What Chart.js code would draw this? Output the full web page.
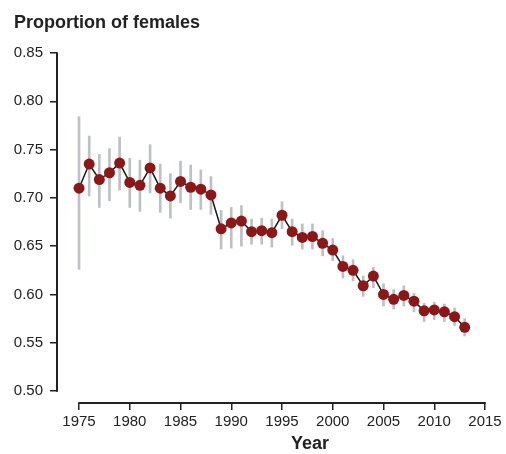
<!DOCTYPE html>
<html>
<head>
<meta charset="utf-8">
<script src="https://cdn.jsdelivr.net/npm/chart.js@4"></script>
<style>
  html, body { margin: 0; padding: 0; background: #fff; }
  #wrap { width: 506px; height: 454px; }
</style>
</head>
<body>
<div id="wrap"><canvas id="chart"></canvas></div>
<script>
const years = [1975, 1976, 1977, 1978, 1979, 1980, 1981, 1982, 1983, 1984,
  1985, 1986, 1987, 1988, 1989, 1990, 1991, 1992, 1993, 1994,
  1995, 1996, 1997, 1998, 1999, 2000, 2001, 2002, 2003, 2004,
  2005, 2006, 2007, 2008, 2009, 2010, 2011, 2012, 2013];
const proportion = [0.710, 0.735, 0.719, 0.726, 0.736, 0.716, 0.713, 0.731, 0.710, 0.702,
  0.717, 0.711, 0.709, 0.703, 0.668, 0.674, 0.676, 0.665, 0.666, 0.664,
  0.682, 0.665, 0.659, 0.660, 0.653, 0.646, 0.629, 0.625, 0.609, 0.619,
  0.600, 0.595, 0.599, 0.593, 0.583, 0.584, 0.582, 0.577, 0.566];
const lower = [0.626, 0.702, 0.690, 0.697, 0.708, 0.690, 0.686, 0.705, 0.685, 0.679,
  0.695, 0.688, 0.688, 0.683, 0.647, 0.648, 0.650, 0.652, 0.652, 0.649,
  0.668, 0.651, 0.647, 0.647, 0.640, 0.635, 0.617, 0.614, 0.598, 0.607,
  0.588, 0.585, 0.588, 0.582, 0.572, 0.574, 0.572, 0.568, 0.557];
const upper = [0.784, 0.764, 0.745, 0.751, 0.763, 0.741, 0.739, 0.755, 0.735, 0.725,
  0.738, 0.734, 0.729, 0.722, 0.687, 0.690, 0.692, 0.678, 0.679, 0.678,
  0.696, 0.678, 0.673, 0.673, 0.666, 0.658, 0.640, 0.636, 0.619, 0.628,
  0.611, 0.605, 0.609, 0.601, 0.591, 0.592, 0.590, 0.586, 0.575];
const yTicks = [0.50, 0.55, 0.60, 0.65, 0.70, 0.75, 0.80, 0.85];
const xTicks = [1975, 1980, 1985, 1990, 1995, 2000, 2005, 2010, 2015];

const font = "'Liberation Sans', Arial, Helvetica, sans-serif";
const ink = "#222";

// axis lines only span the tick range, detached from each other
const axisLines = {
  id: "axisLines",
  afterDraw(chart) {
    const ctx = chart.ctx;
    const xs = chart.scales.x, ys = chart.scales.y;
    ctx.save();
    ctx.strokeStyle = ink;
    ctx.lineWidth = 2;
    ctx.beginPath();
    ctx.moveTo(xs.left, ys.getPixelForValue(yTicks[yTicks.length - 1]) - 0.75);
    ctx.lineTo(xs.left, ys.getPixelForValue(yTicks[0]) + 0.75);
    ctx.moveTo(xs.getPixelForValue(xTicks[0]) - 0.75, ys.bottom);
    ctx.lineTo(xs.getPixelForValue(xTicks[xTicks.length - 1]) + 0.75, ys.bottom);
    ctx.stroke();
    ctx.fillStyle = ink;
    ctx.font = "bold 18px " + font;
    ctx.textAlign = "center";
    ctx.textBaseline = "alphabetic";
    ctx.fillText("Year", 310, 449);
    ctx.restore();
  }
};

new Chart(document.getElementById("chart"), {
  type: "line",
  data: {
    datasets: [
      {
        type: "line",
        data: years.map((y, i) => ({ x: y, y: proportion[i] })),
        borderColor: "#1a1a1a",
        borderWidth: 1.5,
        pointRadius: 5.5,
        pointBackgroundColor: "#8b1818",
        pointBorderWidth: 0,
        order: 1
      },
      {
        type: "bar",
        data: years.map((y, i) => ({ x: y, y: [lower[i], upper[i]] })),
        backgroundColor: "#bdc0c4",
        barThickness: 2,
        order: 2
      }
    ]
  },
  options: {
    responsive: true,
    maintainAspectRatio: false,
    animation: false,
    layout: { padding: { left: 14, right: 21, top: 0, bottom: 0 } },
    plugins: {
      legend: { display: false },
      tooltip: { enabled: false },
      title: {
        display: true,
        text: "Proportion of females",
        align: "start",
        color: ink,
        font: { family: font, size: 18, weight: "bold" },
        padding: { top: 12, bottom: 19.4 }
      }
    },
    scales: {
      x: {
        type: "linear",
        min: 1972.83,
        max: 2015,
        offset: false,
        afterBuildTicks: (s) => { s.ticks = xTicks.map(v => ({ value: v })); },
        afterFit: (s) => { s.height = 51; },
        border: { display: false },
        grid: { display: true, drawOnChartArea: false, offset: false, tickLength: 7, color: ink, lineWidth: 1.5 },
        ticks: { padding: 3, color: ink, font: { family: font, size: 15 }, callback: (v) => String(v), maxRotation: 0 }
      },
      y: {
        type: "linear",
        min: 0.4876,
        max: 0.85,
        beginAtZero: false,
        afterBuildTicks: (s) => { s.ticks = yTicks.map(v => ({ value: v })); },
        afterFit: (s) => { s.width = 43; },
        border: { display: false },
        grid: { display: true, drawOnChartArea: false, tickLength: 7, color: ink, lineWidth: 1.5 },
        ticks: { padding: 7, color: ink, font: { family: font, size: 15 }, callback: (v) => v.toFixed(2) }
      }
    }
  },
  plugins: [axisLines]
});
</script>
</body>
</html>
